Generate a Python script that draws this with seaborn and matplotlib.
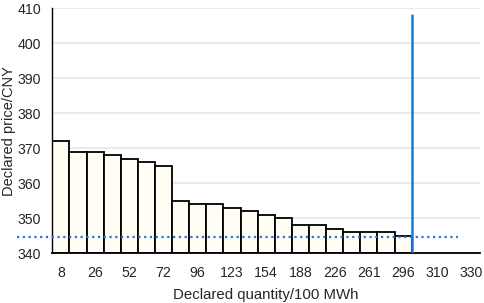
import matplotlib
matplotlib.use("Agg")
import matplotlib.pyplot as plt
import seaborn as sns
import pandas as pd

sns.set_style("white")
plt.rcParams['font.family'] = ['Liberation Sans', 'DejaVu Sans']

# category axis labels (every other category labelled)
tick_labels = ['8', '26', '52', '72', '96', '123', '154', '188', '226', '261', '296', '310', '330']
n_cats = 25
prices = [372, 369, 369, 368, 367, 366, 365, 355, 354, 354, 353, 352, 351, 350,
          348, 348, 347, 346, 346, 346, 345]
clearing_price = 344.7
clearing_top = 408

df = pd.DataFrame({'cat': list(range(len(prices))), 'price': prices})

fig, ax = plt.subplots(figsize=(4.84, 3.03), dpi=100)
fig.subplots_adjust(left=0.108, right=0.992, top=0.972, bottom=0.165)

sns.barplot(data=df, x='cat', y='price', order=list(range(n_cats)), color='#fffdf4',
            saturation=1, width=1.0, edgecolor='black', linewidth=1.3, ax=ax)
# bars start at 340 rather than 0
for p in ax.patches:
    h = p.get_height()
    p.set_y(340)
    p.set_height(h - 340)

ax.set_xlim(-0.5, n_cats - 0.5)
ax.set_ylim(340, 410)
ax.set_yticks(range(340, 411, 10))
ax.set_xticks(range(0, n_cats, 2))
ax.set_xticklabels(tick_labels)
ax.yaxis.grid(True, color='#e6e6e6', linewidth=1.2)
ax.set_axisbelow(True)

ax.plot([-2.55, 23.2], [clearing_price, clearing_price], linestyle=(0, (1, 1.6)),
        color='#1f78d8', linewidth=1.6, clip_on=False, zorder=5)
ax.plot([len(prices) - 0.5, len(prices) - 0.5], [340, clearing_top], color='#1f78d8',
        linewidth=1.8, zorder=6)

for s in ['top', 'right']:
    ax.spines[s].set_visible(False)
ax.spines['left'].set_color('black')
ax.spines['bottom'].set_color('black')
ax.spines['left'].set_linewidth(1.0)
ax.spines['bottom'].set_linewidth(1.3)
ax.tick_params(axis='both', length=0, labelsize=10.2)
ax.tick_params(axis='x', pad=9)
ax.tick_params(axis='y', pad=8)
ax.set_xlabel('Declared quantity/100 MWh', fontsize=10.8, labelpad=6)
ax.set_ylabel('Declared price/CNY', fontsize=10.5)
ax.yaxis.set_label_coords(-0.084, 0.5)

fig.savefig('out.png', dpi=100)
